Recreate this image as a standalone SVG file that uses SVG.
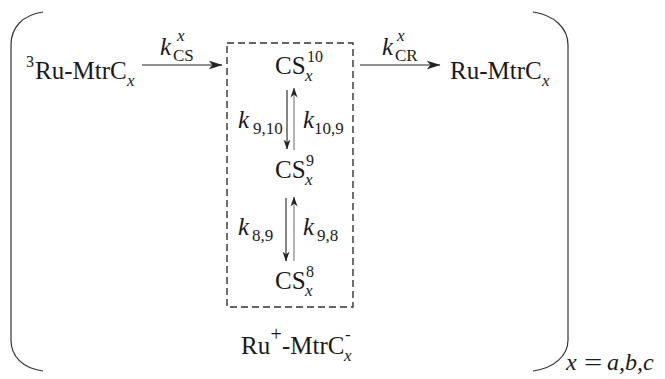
<svg xmlns="http://www.w3.org/2000/svg" width="665" height="379" viewBox="0 0 665 379">
<style>
text{font-family:"Liberation Serif","Times New Roman",serif;fill:#1a1a1a}
.m{font-size:25px}
.i{font-style:italic}
.s{font-size:16px}
.sb{font-size:17px}
.br{fill:none;stroke:#333;stroke-width:1.2}
.con{stroke:#222;stroke-width:1.1;fill:none}
.up{stroke:#777;stroke-width:1.1;fill:none}
.box{fill:none;stroke:#333;stroke-width:1.4;stroke-dasharray:7 4}
</style>
<defs>
<marker id="ah" markerUnits="userSpaceOnUse" markerWidth="14" markerHeight="10" viewBox="0 0 14 10" refX="13.5" refY="5" orient="auto">
<path d="M0,0.5 L14,5 L0,9.5 L4,5 Z" fill="#222"/>
</marker>
<marker id="av" markerUnits="userSpaceOnUse" markerWidth="10" markerHeight="8" viewBox="0 0 10 8" refX="9.5" refY="4" orient="auto">
<path d="M0,0.5 L10,4 L0,7.5 L3,4 Z" fill="#222"/>
</marker>
</defs>
<g id="brackets">
<path class="br" d="M43,12 C22,15 11,28 11,45 L11,340 C11,356 22,368 43,371"/>
<path class="br" d="M533,12 C554,15 568,28 568,45 L568,340 C568,356 554,368 533,371"/>
</g>
<g id="box">
<rect class="box" x="227" y="43" width="126" height="264"/>
</g>
<g id="connectors">
<line class="con" x1="142" y1="65" x2="222" y2="65" marker-end="url(#ah)"/>
<line class="con" x1="360" y1="65" x2="440" y2="65" marker-end="url(#ah)"/>
<line class="con" x1="287" y1="90" x2="287" y2="149" marker-end="url(#av)"/>
<line class="up" x1="294" y1="150" x2="294" y2="88" marker-end="url(#av)"/>
<line class="con" x1="286" y1="198" x2="286" y2="261" marker-end="url(#av)"/>
<line class="up" x1="294" y1="261" x2="294" y2="197" marker-end="url(#av)"/>
</g>
<g id="labels">
<text class="m i" x="160" y="55">k</text>
<text class="sb i" x="177" y="41">x</text>
<text class="sb" x="173" y="61">CS</text>
<text class="m i" x="382" y="55">k</text>
<text class="sb i" x="397" y="41">x</text>
<text class="sb" x="395" y="61">CR</text>
<text class="m i" x="238" y="128">k</text>
<text class="sb" x="253" y="134">9,10</text>
<text class="m i" x="303" y="128">k</text>
<text class="sb" x="314" y="134">10,9</text>
<text class="m i" x="238" y="235">k</text>
<text class="sb" x="252" y="241">8,9</text>
<text class="m i" x="303" y="235">k</text>
<text class="sb" x="317" y="241">9,8</text>
</g>
<g id="n-3RuMtrC">
<text class="s" x="26" y="67">3</text>
<text class="m" x="35" y="79">Ru-MtrC</text>
<text class="sb i" x="127" y="86">x</text>
</g>
<g id="n-CS10">
<text class="m" x="275" y="74">CS</text>
<text class="s" x="307" y="62">10</text>
<text class="sb i" x="305" y="81">x</text>
</g>
<g id="n-CS9">
<text class="m" x="275" y="178">CS</text>
<text class="s" x="306" y="166">9</text>
<text class="sb i" x="305" y="185">x</text>
</g>
<g id="n-CS8">
<text class="m" x="275" y="289">CS</text>
<text class="s" x="306" y="277">8</text>
<text class="sb i" x="305" y="296">x</text>
</g>
<g id="n-RuMtrC">
<text class="m" x="450" y="79">Ru-MtrC</text>
<text class="sb i" x="542" y="86">x</text>
</g>
<g id="n-RuPlusMtrCMinus">
<text class="m" x="241" y="354">Ru</text>
<text style="font-size:20px" x="270.5" y="341">+</text>
<text class="m" x="282" y="354">-MtrC</text>
<text class="sb" x="345" y="340">-</text>
<text class="sb i" x="344" y="361">x</text>
</g>
<g id="note">
<text style="font-size:24px" class="i" x="566" y="370">x</text>
<text style="font-size:24px" transform="translate(584,370) scale(1.35,1)" x="0" y="0">=</text>
<text style="font-size:24px" class="i" x="607" y="370">a,b,c</text>
</g>
</svg>
